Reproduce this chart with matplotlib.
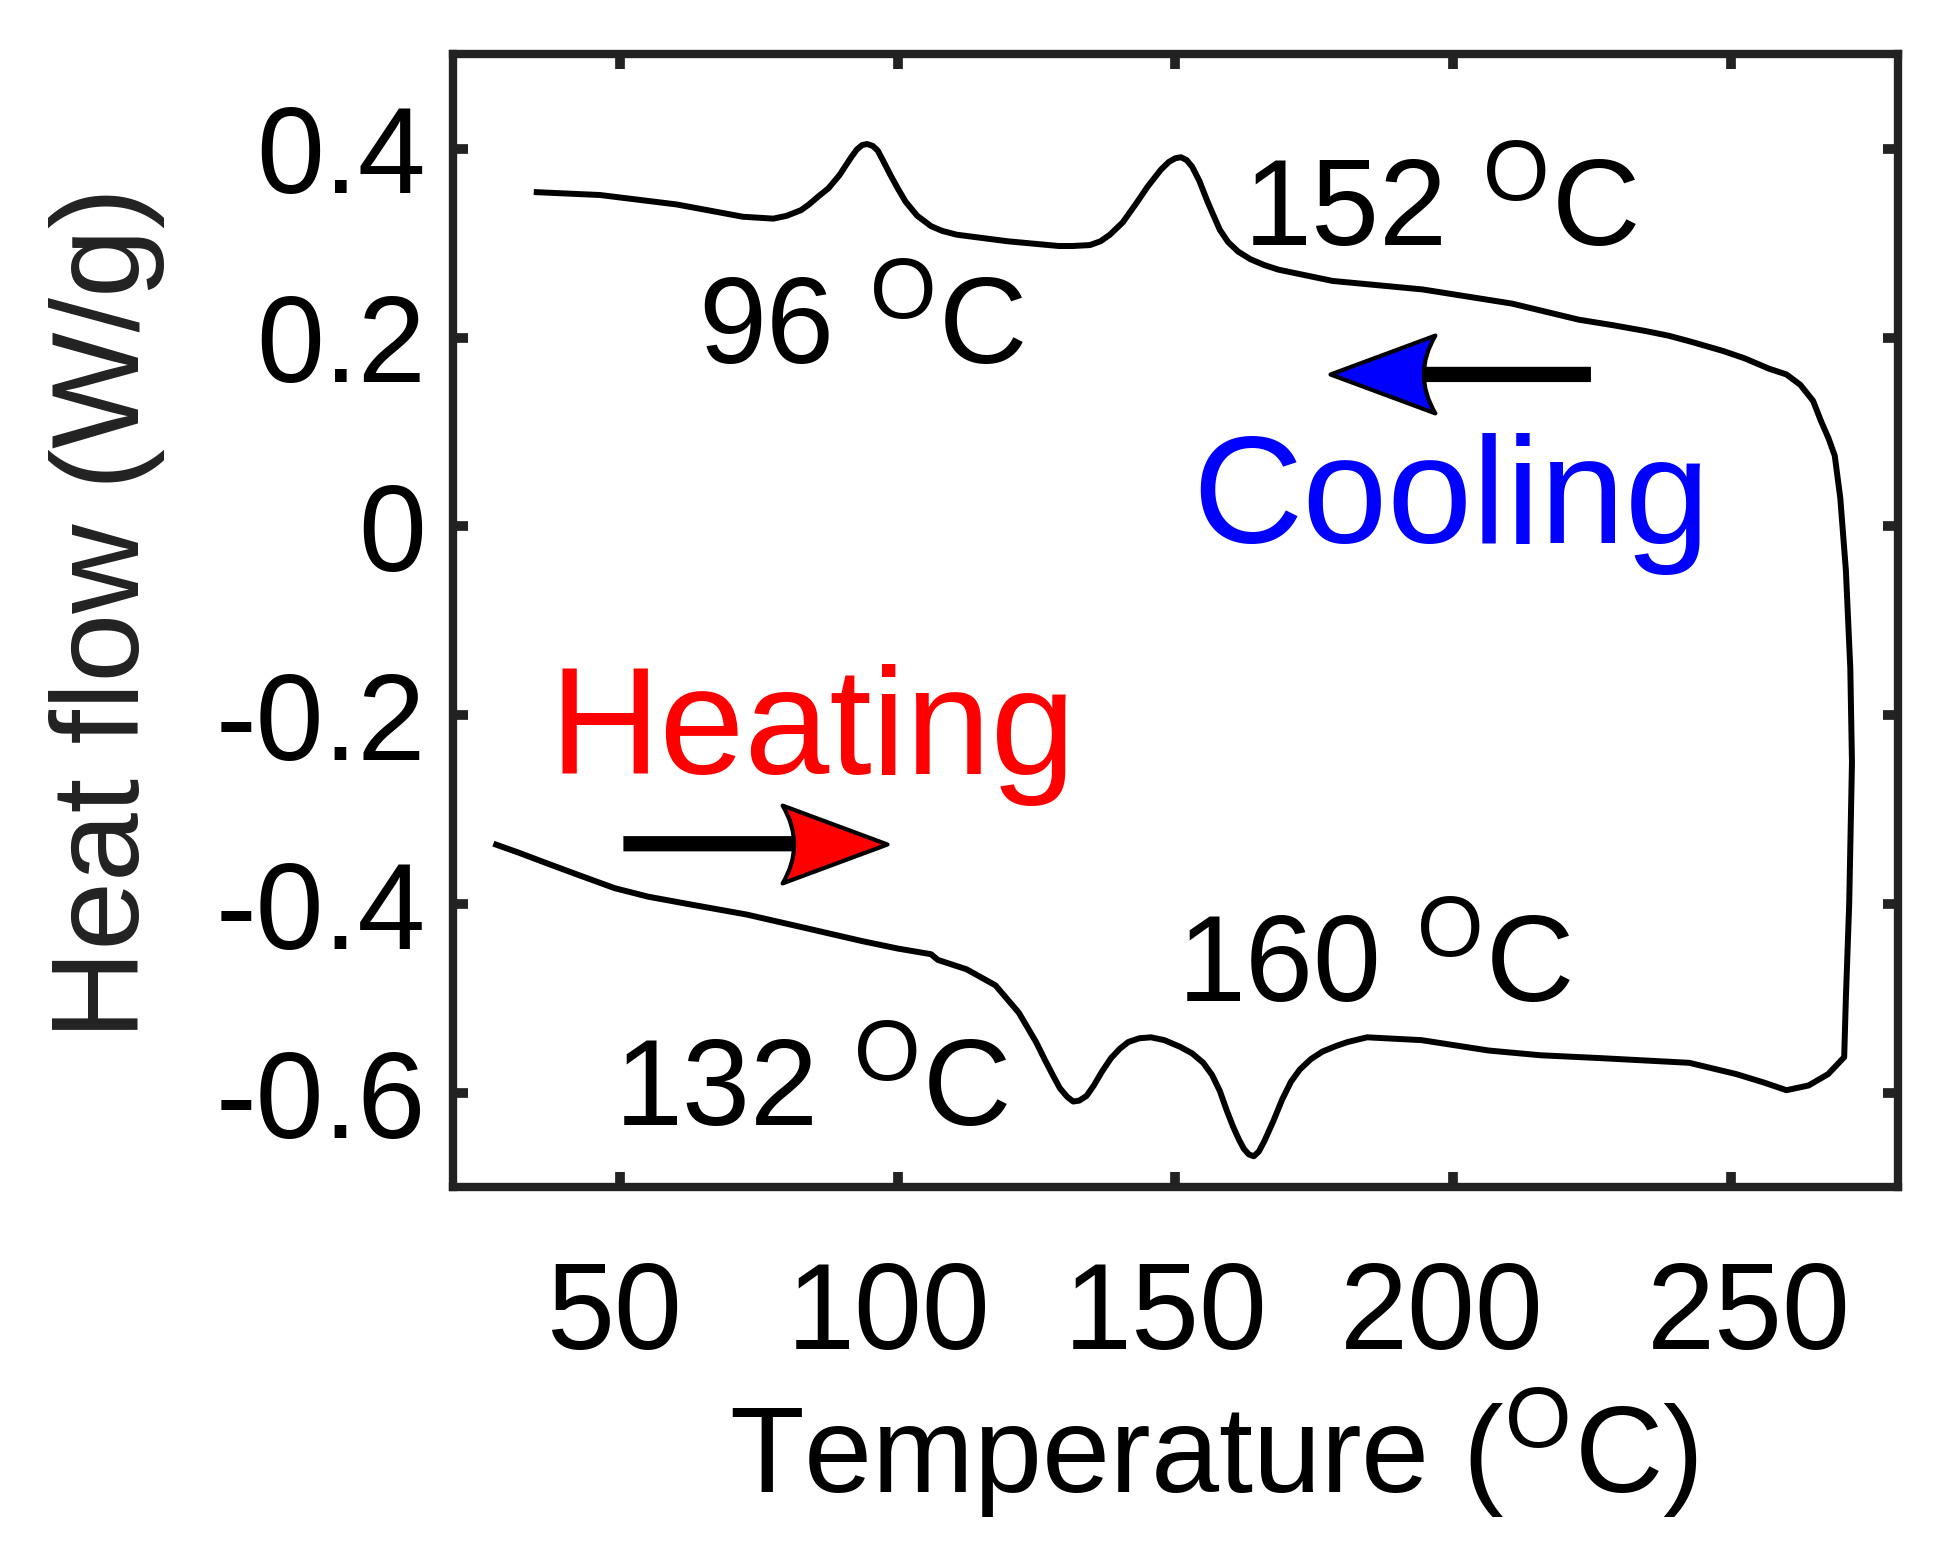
import matplotlib
matplotlib.use("Agg")
import matplotlib.pyplot as plt
from matplotlib.path import Path
from matplotlib.transforms import ScaledTranslation

plt.rcParams["font.family"] = ["Liberation Sans", "DejaVu Sans"]
plt.rcParams["mathtext.fontset"] = "custom"
plt.rcParams["mathtext.rm"] = "Liberation Sans"
plt.rcParams["mathtext.it"] = "Liberation Sans"
plt.rcParams["axes.unicode_minus"] = False

# DSC loop: heating (left -> right), up the right edge, cooling (right -> left)
temp = [27.7, 32, 36.5, 42, 49, 55, 62.4, 72.8, 83.2, 93.5, 100, 106, 107.2,
        112.4, 117.6, 121.8, 123.3, 124.9, 126.5, 128.0, 129.2, 130.5, 131.6,
        132.7, 134.0, 135.3, 136.8, 138.4, 140.0, 141.5, 143.5, 145.6, 148.0,
        150.8, 153.0, 155.0, 156.6, 158.0, 159.2, 160.4, 161.4, 162.3, 163.2,
        164.1, 165.0, 166.0, 167.6, 169.2, 170.8, 172.4, 174.4, 176.5, 179.0,
        181.0, 184.5, 194.3, 206.4, 215.7, 226.4, 242.5, 251, 256, 260.0,
        264, 267.5, 270.4, 270.7, 271.3, 271.8, 271.5, 270.7, 269.7, 268.7,
        267.6, 266.2, 264.8, 262.5, 260, 256.9, 252.5, 248.5, 242.6, 238.8,
        234.6, 228.9, 222.6, 210.6, 194.5, 178.3, 171.8, 168.5, 165.9, 163.5,
        161.3, 159.5, 158.0, 156.8, 155.7, 154.3, 153.0, 152.0, 151.0, 150.0,
        148.8, 147.4, 145.0, 142.8, 140.5, 138.2, 136.5, 134.6, 131.5, 129.0,
        119.8, 110.6, 108.0, 106.0, 103.5, 101.4, 100.0, 98.7, 97.3, 96.4,
        95.5, 94.5, 93.6, 92.6, 91.5, 89.5, 87.5, 85.8, 84.0, 82.6, 80.0,
        77.6, 72.1, 60.2, 46.4, 35.0]
heat_flow = [-0.337, -0.346, -0.356, -0.368, -0.383, -0.392, -0.400, -0.411,
             -0.425, -0.439, -0.447, -0.453, -0.459, -0.469, -0.486, -0.515,
             -0.530, -0.546, -0.565, -0.582, -0.595, -0.604, -0.609, -0.608,
             -0.603, -0.592, -0.577, -0.563, -0.553, -0.546, -0.542, -0.541,
             -0.544, -0.551, -0.558, -0.568, -0.581, -0.598, -0.618, -0.636,
             -0.649, -0.659, -0.665, -0.667, -0.662, -0.651, -0.630, -0.607,
             -0.588, -0.575, -0.564, -0.556, -0.550, -0.546, -0.541, -0.544,
             -0.555, -0.560, -0.563, -0.568, -0.580, -0.589, -0.597, -0.592,
             -0.580, -0.562, -0.50, -0.40, -0.25, -0.15, -0.046, 0.03, 0.075,
             0.093, 0.112, 0.133, 0.150, 0.161, 0.167, 0.178, 0.186, 0.196,
             0.202, 0.207, 0.213, 0.219, 0.236, 0.251, 0.260, 0.268, 0.272,
             0.277, 0.283, 0.291, 0.301, 0.314, 0.330, 0.345, 0.366, 0.381,
             0.388, 0.391, 0.390, 0.386, 0.378, 0.360, 0.341, 0.322, 0.309,
             0.302, 0.298, 0.297, 0.297, 0.302, 0.309, 0.313, 0.318, 0.329,
             0.344, 0.358, 0.372, 0.388, 0.398, 0.403, 0.405, 0.404, 0.399,
             0.390, 0.372, 0.358, 0.350, 0.341, 0.335, 0.329, 0.326, 0.328,
             0.341, 0.351, 0.354]

x_ticks = [50, 100, 150, 200, 250]
x_label_shift_px = [-6, -9, -10, -11, 18]
y_ticks = [-0.6, -0.4, -0.2, 0, 0.2, 0.4]
y_tick_labels = ["-0.6", "-0.4", "-0.2", "0", "0.2", "0.4"]

# peak labels: (text, x, baseline y)
peak_labels = [
    (r"96 $^{\mathrm{O}}$C", 64.1, 0.172),
    (r"152 $^{\mathrm{O}}$C", 162.2, 0.297),
    (r"132 $^{\mathrm{O}}$C", 48.9, -0.635),
    (r"160 $^{\mathrm{O}}$C", 150.2, -0.504),
]

spine_col = "#222222"

fig = plt.figure(figsize=(19.57, 15.61), dpi=100)
ax = fig.add_axes([0.2317, 0.2393, 0.9696 - 0.2317, 0.9652 - 0.2393])

ax.plot(temp, heat_flow, color="black", lw=4.3, solid_joinstyle="round")

ax.set_xlim(20, 280)
ax.set_ylim(-0.7, 0.5)
ax.set_xticks(x_ticks)
ax.set_yticks(y_ticks)
ax.set_yticklabels(y_tick_labels)

for s in ax.spines.values():
    s.set_linewidth(6)
    s.set_color(spine_col)
ax.tick_params(direction="in", top=True, right=True, length=10.5, width=7,
               color=spine_col, labelsize=88)
ax.tick_params(axis="x", pad=52)
ax.tick_params(axis="y", pad=20)

for lab, dx in zip(ax.get_xticklabels(), x_label_shift_px):
    lab.set_transform(lab.get_transform() +
                      ScaledTranslation(dx / 100, 0, fig.dpi_scale_trans))

ax.set_xlabel(r"Temperature ($^{\mathrm{O}}$C)", fontsize=88)
ax.set_ylabel("Heat flow (W/g)", fontsize=89, color=spine_col)
ax.xaxis.set_label_coords(0.526, -0.175)
ax.yaxis.set_label_coords(-0.2, 0.507)

for txt, x, y in peak_labels:
    ax.text(x, y, txt, fontsize=88, ha="left", va="baseline")

ax.text(153.1, -0.018, "Cooling", color="#0000ff", fontsize=110,
        ha="left", va="baseline")
ax.text(37.3, -0.262, "Heating", color="#ff0000", fontsize=110,
        ha="left", va="baseline")

# arrowhead with concave back, tip at origin, pointing right
head_verts = [(0, 0), (-1, 0.371), (-0.78, 0), (-1, -0.371), (0, 0)]
head_codes = [Path.MOVETO, Path.LINETO, Path.CURVE3, Path.CURVE3,
              Path.CLOSEPOLY]
head_right = Path(head_verts, head_codes)
head_left = Path([(-x, y) for x, y in head_verts], head_codes)

# direction arrows: thick black shaft + coloured head
arrows = [
    # tail x, shaft end x, tip x, y, colour, head
    (224.8, 192.0, 177.9, 0.161, "#0000ff", head_left),
    (50.6, 84.0, 98.1, -0.336, "#ff0000", head_right),
]
for tail, end, tip, y, col, head in arrows:
    ax.annotate("", xy=(end, y), xytext=(tail, y),
                arrowprops=dict(arrowstyle="-", lw=11, color="black",
                                shrinkA=0, shrinkB=0, capstyle="butt"))
    ax.plot([tip], [y], marker=head, markersize=151, markerfacecolor=col,
            markeredgecolor="black", markeredgewidth=3, linestyle="none",
            zorder=5)

fig.savefig("out.png", dpi=100)
